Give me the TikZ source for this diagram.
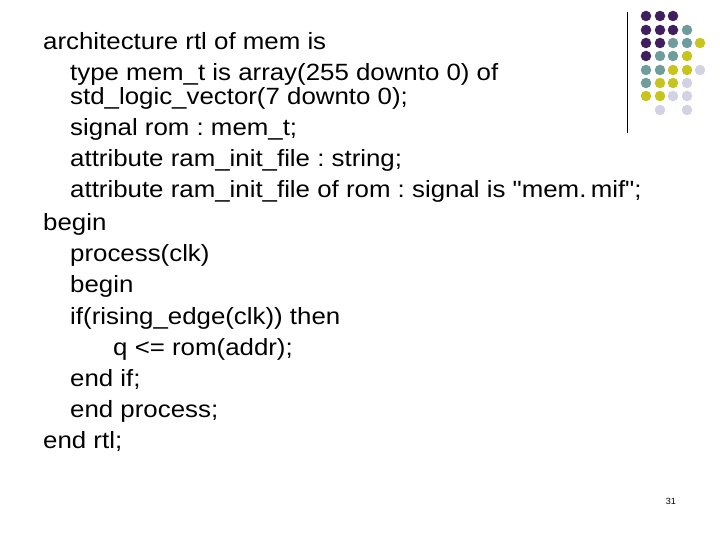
\documentclass[tikz,border=0pt]{standalone}
\usepackage{fontspec}
\setmainfont{Liberation Sans}
\frenchspacing
\definecolor{cP}{HTML}{3F1F5E}
\definecolor{cT}{HTML}{6F9C9C}
\definecolor{cY}{HTML}{C8C41E}
\definecolor{cL}{HTML}{D2D2E2}
\tikzset{ln/.style={anchor=base west,inner sep=0pt,font=\fontsize{23.5}{26}\selectfont,xscale=1.1},
dot/.style={circle,inner sep=0pt,minimum size=10.5pt}}
\begin{document}
\begin{tikzpicture}[x=1pt,y=-1pt]
\useasboundingbox[fill=white] (0,0) rectangle (720,540);
\node[ln] (l1) at (43,50) {architecture rtl of mem is};
\node[ln] (l2) at (70,81) {type mem\_t is array(255 downto 0) of};
\node[ln] (l3) at (70,105) {std\_logic\_vector(7 downto 0);};
\node[ln] (l4) at (70,136) {signal rom : mem\_t;};
\node[ln] (l5) at (70,167) {attribute ram\_init\_file : string;};
\node[ln] (l6) at (70,198) {attribute ram\_init\_file of rom : signal is \textquotedbl mem.\,mif\textquotedbl;};
\node[ln] (l7) at (43,230) {begin};
\node[ln] (l8) at (70,261) {process(clk)};
\node[ln] (l9) at (70,292) {begin};
\node[ln] (l10) at (70,324) {if(rising\_edge(clk)) then};
\node[ln] (l11) at (113,355) {q <= rom(addr);};
\node[ln] (l12) at (70,386) {end if;};
\node[ln] (l13) at (70,417) {end process;};
\node[ln] (l14) at (43,448) {end rtl;};
\node[anchor=base east,inner sep=0pt,font=\fontsize{9}{10}\selectfont] (pg) at (676,504) {31};
\coordinate (a) at (627,12); \coordinate (b) at (627,133);
\draw[line width=1pt] (a) -- (b);
\foreach \x/\y/\c in {
646/16/cP,660/16/cP,673/16/cP,
646/30/cP,660/30/cP,673/30/cP,687/30/cT,
646/43/cP,660/43/cP,673/43/cT,687/43/cT,700/43/cY,
646/56/cP,660/56/cT,673/56/cT,687/56/cY,
646/70/cT,660/70/cT,673/70/cY,687/70/cY,700/70/cL,
646/83/cT,660/83/cY,673/83/cY,687/83/cL,
646/96/cY,660/96/cY,673/96/cL,687/96/cL,
660/110/cL,687/110/cL}
  \node[dot,fill=\c] at (\x,\y) {};
\end{tikzpicture}
\end{document}
